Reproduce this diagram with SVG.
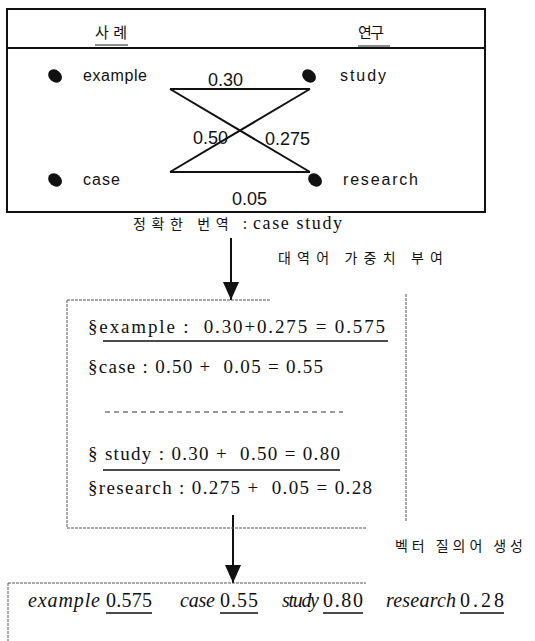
<svg xmlns="http://www.w3.org/2000/svg" width="535" height="641" viewBox="0 0 535 641">
<style>
.sans{font-family:"Liberation Sans",Arial,sans-serif;fill:#111}
.serif{font-family:"Liberation Serif","Times New Roman",serif;fill:#111}
.ko{font-family:"Noto Sans CJK KR","Noto Sans",sans-serif;fill:#111}
.it{font-style:italic}
.edge{stroke:#111;stroke-width:2;fill:none}
.dot{stroke:#555;stroke-width:1;fill:none;stroke-dasharray:3 1}
.ul{stroke:#111;stroke-width:1.3}
.bullet{fill:#111}
</style>
<defs>
<marker id="ah" markerWidth="18" markerHeight="18" refX="18" refY="8" orient="auto" markerUnits="userSpaceOnUse" viewBox="0 0 18 16">
<path d="M0,0 L18,8 L0,16 Z" fill="#111"/>
</marker>
</defs>

<g id="source-box">
<rect x="7" y="9" width="478" height="203" class="edge"/>
<line x1="7" y1="48" x2="485" y2="48" class="edge"/>
<text x="95" y="38" class="ko" font-size="15" textLength="32">사례</text>
<line x1="95" y1="45" x2="128" y2="45" stroke="#666" stroke-width="1.5"/>
<text x="358" y="38" class="ko" font-size="15" textLength="26">연구</text>
<line x1="358" y1="46" x2="390" y2="46" stroke="#666" stroke-width="1.5"/>
</g>

<g id="node-example">
<ellipse cx="55" cy="76" rx="7.5" ry="6" transform="rotate(40 55 76)" class="bullet"/>
<text x="83" y="81" class="sans" font-size="16" textLength="64">example</text>
</g>
<g id="node-case">
<ellipse cx="55" cy="180" rx="7.5" ry="6" transform="rotate(40 55 180)" class="bullet"/>
<text x="83" y="185" class="sans" font-size="16" textLength="37">case</text>
</g>
<g id="node-study">
<ellipse cx="309" cy="76" rx="7.5" ry="6" transform="rotate(40 309 76)" class="bullet"/>
<text x="340" y="81" class="sans" font-size="16" textLength="46">study</text>
</g>
<g id="node-research">
<ellipse cx="315" cy="180" rx="7.5" ry="6" transform="rotate(40 315 180)" class="bullet"/>
<text x="343" y="185" class="sans" font-size="16" textLength="75">research</text>
</g>

<g id="connectors">
<line x1="170" y1="89" x2="310" y2="89" class="edge"/>
<line x1="170" y1="89" x2="310" y2="172" class="edge"/>
<line x1="310" y1="89" x2="170" y2="172" class="edge"/>
<line x1="170" y1="172" x2="310" y2="172" class="edge"/>
<text x="208" y="86" class="sans" font-size="18">0.30</text>
<text x="193" y="144" class="sans" font-size="18">0.50</text>
<text x="265" y="145" class="sans" font-size="18">0.275</text>
<text x="232" y="205" class="sans" font-size="18">0.05</text>
<line x1="231" y1="238" x2="231" y2="300" stroke="#111" stroke-width="2" marker-end="url(#ah)"/>
<line x1="233" y1="515" x2="233" y2="583" stroke="#111" stroke-width="2" marker-end="url(#ah)"/>
</g>

<g id="caption">
<text x="133" y="229" class="ko" font-size="14" textLength="114">정확한 번역 :</text>
<text x="253" y="229" class="serif" font-size="18" textLength="89">case study</text>
</g>

<g id="label-weight">
<text x="278" y="263" class="ko" font-size="14" textLength="165">대역어 가중치 부여</text>
</g>

<g id="weight-box">
<line x1="67" y1="300" x2="270" y2="300" class="dot"/>
<line x1="67" y1="300" x2="67" y2="528" class="dot"/>
<line x1="67" y1="528" x2="366" y2="528" class="dot"/>
<line x1="406" y1="294" x2="406" y2="522" class="dot"/>
<text x="88" y="333" class="serif" font-size="19" textLength="297" xml:space="preserve">§example :  0.30+0.275 = 0.575</text>
<line x1="103" y1="341" x2="388" y2="341" class="ul"/>
<text x="88" y="373" class="serif" font-size="19" textLength="235" xml:space="preserve">§case : 0.50 +  0.05 = 0.55</text>
<line x1="105" y1="412" x2="343" y2="412" stroke="#333" stroke-width="1" stroke-dasharray="5 4"/>
<text x="88" y="460" class="serif" font-size="19" textLength="252" xml:space="preserve">§ study : 0.30 +  0.50 = 0.80</text>
<line x1="103" y1="470" x2="340" y2="470" class="ul"/>
<text x="88" y="494" class="serif" font-size="19" textLength="284" xml:space="preserve">§research : 0.275 +  0.05 = 0.28</text>
</g>

<g id="label-vector">
<text x="395" y="551" class="ko" font-size="14" textLength="128">벡터 질의어 생성</text>
</g>

<g id="query-box">
<line x1="8" y1="583" x2="366" y2="583" class="dot"/>
<line x1="8" y1="583" x2="8" y2="641" class="dot"/>
<text x="28" y="607" class="serif it" font-size="20" textLength="72">example</text>
<text x="106" y="607" class="serif" font-size="20" textLength="46">0.575</text>
<line x1="106" y1="613" x2="152" y2="613" class="ul"/>
<text x="180" y="607" class="serif it" font-size="20" textLength="35">case</text>
<text x="220" y="607" class="serif" font-size="20" textLength="38">0.55</text>
<line x1="220" y1="613" x2="258" y2="613" class="ul"/>
<text x="282" y="607" class="serif it" font-size="20" textLength="37">study</text>
<text x="323" y="607" class="serif" font-size="20" textLength="40">0.80</text>
<line x1="323" y1="613" x2="363" y2="613" class="ul"/>
<text x="386" y="607" class="serif it" font-size="20" textLength="70">research</text>
<text x="460" y="607" class="serif" font-size="20" textLength="44">0.28</text>
<line x1="460" y1="613" x2="504" y2="613" class="ul"/>
</g>
</svg>
